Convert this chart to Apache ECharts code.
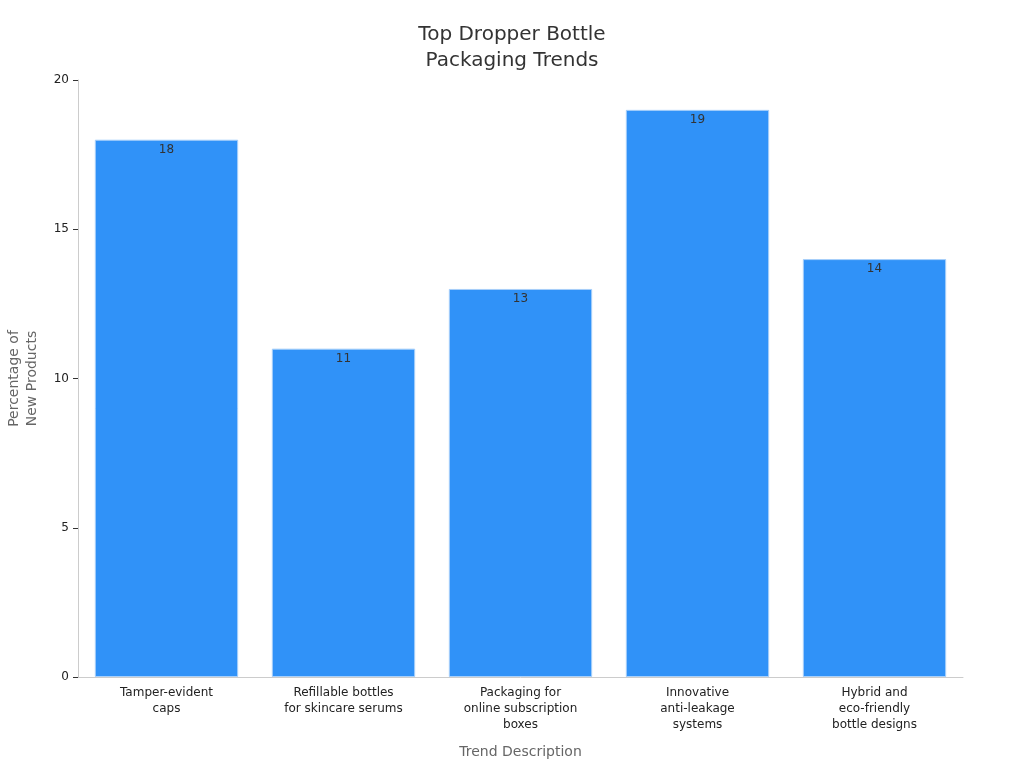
<!DOCTYPE html>
<html>
<head>
<meta charset="utf-8">
<script src="https://cdn.jsdelivr.net/npm/echarts@6/dist/echarts.min.js"></script>
<style>
  html, body { margin: 0; padding: 0; background: #fff; }
  #chartBox { width: 1024px; height: 768px; }
</style>
</head>
<body>
<div id="chartBox"></div>
<script>
const categories = [
  "Tamper-evident\ncaps",
  "Refillable bottles\nfor skincare serums",
  "Packaging for\nonline subscription\nboxes",
  "Innovative\nanti-leakage\nsystems",
  "Hybrid and\neco-friendly\nbottle designs"
];
const shareValues = [18, 11, 13, 19, 14];
const yTicks = { min: 0, max: 20, interval: 5 };

const chart = echarts.init(document.getElementById("chartBox"));
const font = "DejaVu Sans";

chart.setOption({
  animation: false,
  textStyle: { fontFamily: font },
  title: {
    text: "Top Dropper Bottle\nPackaging Trends",
    left: "center",
    top: 17,
    textStyle: { fontFamily: font, fontSize: 20, fontWeight: "normal", color: "#333", lineHeight: 26 }
  },
  grid: { left: 78, right: 61, top: 80, bottom: 91, containLabel: false, outerBoundsMode: "none" },
  xAxis: {
    type: "category",
    data: categories,
    name: "Trend Description",
    nameLocation: "middle",
    nameGap: 68,
    nameTextStyle: { fontFamily: font, fontSize: 14, color: "#666" },
    axisLine: { lineStyle: { color: "#ccc" } },
    axisTick: { alignWithLabel: true, length: 5, lineStyle: { color: "#333" } },
    axisLabel: { fontFamily: font, fontSize: 12, color: "#222", lineHeight: 16, margin: 8, interval: 0 }
  },
  yAxis: {
    type: "value",
    min: yTicks.min,
    max: yTicks.max,
    interval: yTicks.interval,
    name: "Percentage of\nNew Products",
    nameLocation: "middle",
    nameGap: 37,
    nameTextStyle: { fontFamily: font, fontSize: 14, color: "#666", lineHeight: 18 },
    axisLine: { show: true, lineStyle: { color: "#ccc" } },
    axisTick: { show: true, length: 5, lineStyle: { color: "#333" } },
    axisLabel: { fontFamily: font, fontSize: 12, color: "#222", margin: 9 },
    splitLine: { show: false }
  },
  series: [
    {
      type: "bar",
      data: shareValues,
      barCategoryGap: "19%",
      itemStyle: { color: "#3092f8", borderColor: "#a9d0fa", borderWidth: 1 },
      label: {
        show: true,
        position: "insideTop",
        distance: 4,
        fontFamily: font,
        fontSize: 12,
        color: "#333"
      }
    }
  ]
});
</script>
</body>
</html>
